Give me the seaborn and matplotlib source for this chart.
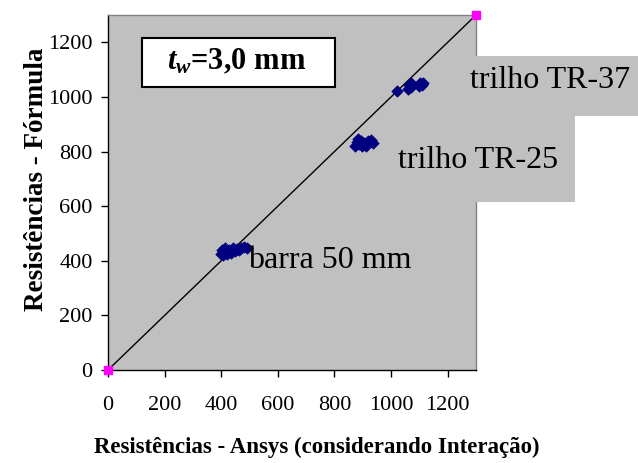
import matplotlib
matplotlib.use("Agg")
import matplotlib.pyplot as plt
import seaborn as sns
import pandas as pd
from matplotlib.patches import Rectangle

# data
barra_x = [398, 402, 405, 410, 415, 420, 428, 435, 440, 448, 455, 462, 470, 480, 490]
barra_y = [425, 438, 420, 432, 445, 425, 440, 428, 448, 435, 442, 438, 448, 450, 448]
tr25_x = [872, 878, 882, 888, 892, 898, 905, 912, 920, 928, 935]
tr25_y = [822, 835, 845, 828, 840, 820, 832, 822, 838, 842, 832]
tr37_x = [1020, 1060, 1065, 1070, 1072, 1098, 1102, 1108, 1112]
tr37_y = [1020, 1028, 1042, 1050, 1035, 1040, 1052, 1045, 1050]
ref_x = [0, 1300]
ref_y = [0, 1300]
ticks = [0, 200, 400, 600, 800, 1000, 1200]

sns.set_theme(style="white")
plt.rcParams['font.family'] = ['Liberation Serif', 'DejaVu Serif']
plt.rcParams['text.color'] = 'black'
plt.rcParams['axes.labelcolor'] = 'black'
plt.rcParams['xtick.color'] = 'black'
plt.rcParams['ytick.color'] = 'black'
plt.rcParams['mathtext.fontset'] = 'custom'
plt.rcParams['mathtext.rm'] = 'Liberation Serif:bold'
plt.rcParams['mathtext.it'] = 'Liberation Serif:bold:italic'
plt.rcParams['mathtext.bf'] = 'Liberation Serif:bold'

W, H = 638, 463
fig = plt.figure(figsize=(W / 100, H / 100), dpi=100)
ax = fig.add_axes([108 / W, 1 - 370 / H, (476 - 108) / W, (370 - 15) / H])
ax.set_facecolor('#C0C0C0')

df = pd.DataFrame({
    'x': barra_x + tr25_x + tr37_x,
    'y': barra_y + tr25_y + tr37_y,
})
ax.plot(ref_x, ref_y, color='black', lw=1, zorder=2)
sns.scatterplot(data=df, x='x', y='y', ax=ax, marker='D', s=34, color='#000080',
                edgecolor='#000080', linewidth=0.5, zorder=3, legend=False)
ax.scatter(ref_x, ref_y, marker='s', s=30, color='#FF00FF', zorder=4, clip_on=False)

ax.set_xlim(0, 1300)
ax.set_ylim(0, 1300)
ax.set_xticks(ticks)
ax.set_yticks(ticks)
ax.tick_params(axis='both', which='both', direction='out', length=5, width=1,
               color='black', labelsize=16, left=True, bottom=True)
ax.tick_params(axis='x', pad=14)
ax.tick_params(axis='y', pad=6)
for s in ['left', 'bottom']:
    ax.spines[s].set_color('black')
    ax.spines[s].set_linewidth(1)
for s in ['top', 'right']:
    ax.spines[s].set_color('#808080')
    ax.spines[s].set_linewidth(1)

ax.set_xlabel('Resistências - Ansys (considerando Interação)', fontsize=16.5,
              fontweight='bold')
ax.xaxis.set_label_coords((317 - 108) / 368, -(447 - 370) / 355)
ax.xaxis.label.set_va('center')
ax.set_ylabel('Resistências - Fórmula', fontsize=19.5, fontweight='bold')
ax.yaxis.set_label_coords((37 - 108) / 368, (370 - 179) / 355)
ax.yaxis.label.set_va('center')

# annotation boxes (figure pixels)
def fx(px):
    return px / W

def fy(py):
    return 1 - py / H

fig.patches.append(Rectangle((fx(462), fy(116)), fx(638) - fx(462), fy(56) - fy(116),
                             transform=fig.transFigure, facecolor='#C0C0C0',
                             edgecolor='none', zorder=0))
fig.patches.append(Rectangle((fx(392), fy(202)), fx(575) - fx(392), fy(116) - fy(202),
                             transform=fig.transFigure, facecolor='#C0C0C0',
                             edgecolor='none', zorder=0))

fig.text(fx(470), fy(80), 'trilho TR-37', fontsize=23, ha='left', va='center')
fig.text(fx(398), fy(160), 'trilho TR-25', fontsize=23, ha='left', va='center')
fig.text(fx(248), fy(260), 'barra 50 mm', fontsize=23, ha='left', va='center')

fig.patches.append(Rectangle((fx(142), fy(87)), fx(335) - fx(142), fy(38) - fy(87),
                             transform=fig.transFigure, facecolor='white',
                             edgecolor='black', linewidth=1.5, zorder=5))
fig.text(fx(237), fy(62), '$t_w$=3,0 mm', fontsize=22,
         fontweight='bold', ha='center', va='center', zorder=6)

fig.savefig('out.png', dpi=100)
